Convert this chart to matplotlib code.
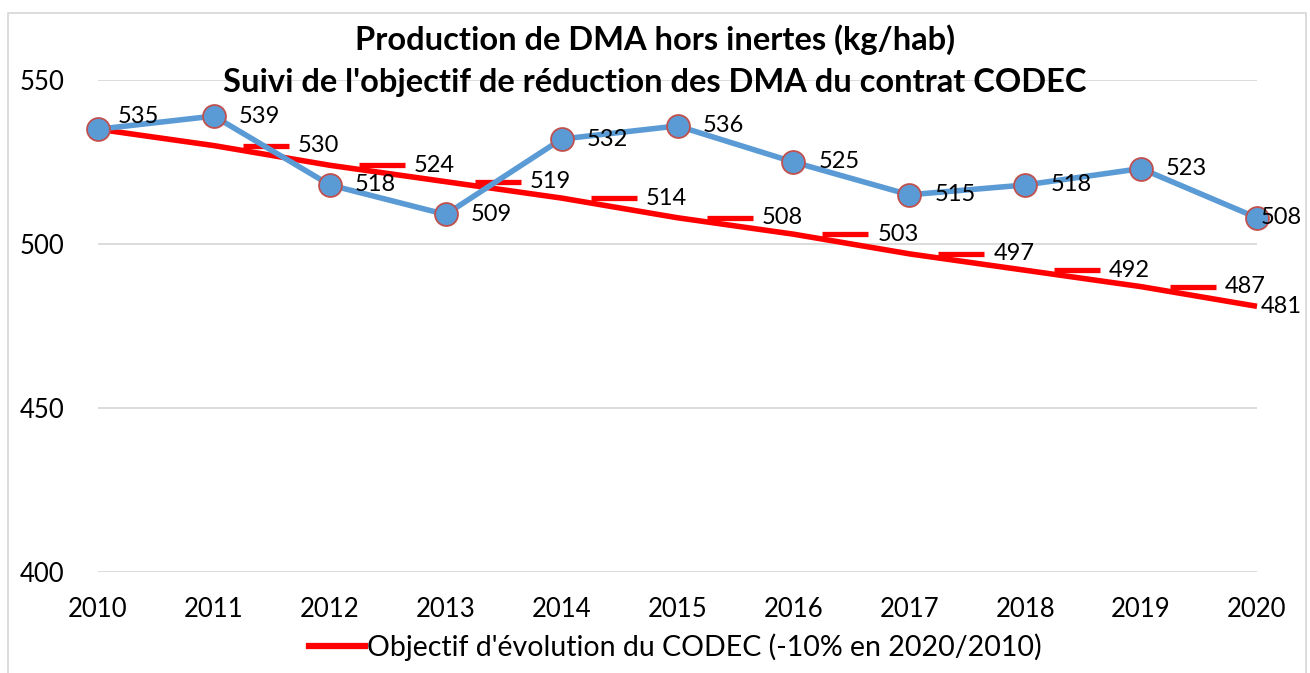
import matplotlib
matplotlib.use("Agg")
import matplotlib.pyplot as plt
from matplotlib.path import Path
from matplotlib.lines import Line2D

years = [2010, 2011, 2012, 2013, 2014, 2015, 2016, 2017, 2018, 2019, 2020]
dma = [535, 539, 518, 509, 532, 536, 525, 515, 518, 523, 508]
objectif = [535, 530, 524, 519, 514, 508, 503, 497, 492, 487, 481]
yticks = [400, 450, 500, 550]
title1 = "Production de DMA hors inertes (kg/hab)"
title2 = "Suivi de l'objectif de réduction des DMA du contrat CODEC"
legend_label = "Objectif d'évolution du CODEC (-10% en 2020/2010)"

plt.rcParams['font.family'] = ['Lato', 'DejaVu Sans']

W, H = 1310, 673
fig = plt.figure(figsize=(W / 100, H / 100), dpi=100)
ax = fig.add_axes([98 / W, (H - 572) / H, (1257 - 98) / W, (572 - 80) / H])

BLUE = '#5B9BD5'
RED = '#FF0000'

# gridlines
for t in yticks:
    ax.axhline(t, color='#D9D9D9', lw=1.3, zorder=0)

ax.plot(years, objectif, color=RED, lw=4, solid_capstyle='butt', zorder=2,
        clip_on=False)
ax.plot(years, dma, color=BLUE, lw=4, marker='o', ms=16.5,
        mfc=BLUE, mec='#C0504D', mew=1.3, zorder=3, clip_on=False)

ax.set_xlim(years[0], years[-1])
ax.set_ylim(yticks[0], yticks[-1])
ax.set_yticks(yticks)
ax.set_xticks(years)
ax.tick_params(length=0, labelsize=18.5)
ax.tick_params(axis='y', pad=24)
ax.tick_params(axis='x', pad=18)
for s in ax.spines.values():
    s.set_visible(False)

# legend-key dashes in the objective data labels
key = Path([(29, 0), (75, 0)], [Path.MOVETO, Path.LINETO])
ax.plot(years[1:-1], objectif[1:-1], ls='none', marker=key, ms=108,
        mfc='none', mec=RED, mew=3.8, zorder=2)

# data labels
lab_fs = 17
for i, (x, v) in enumerate(zip(years, dma)):
    if i == 0:
        off = (20, 13)
    elif i == len(years) - 1:
        off = (4, 0)
    else:
        off = (25, 0)
    ax.annotate(str(v), (x, v), xytext=off, textcoords='offset pixels',
                ha='left', va='center', fontsize=lab_fs, zorder=5,
                annotation_clip=False)
for i, (x, v) in enumerate(zip(years, objectif)):
    if i == 0:
        continue
    off = (4, 0) if i == len(years) - 1 else (84, 0)
    ax.annotate(str(v), (x, v), xytext=off, textcoords='offset pixels',
                ha='left', va='center', fontsize=lab_fs, zorder=5,
                annotation_clip=False)

fig.text(655 / W, 1 - 50 / H, title1, ha='center', va='baseline',
         fontsize=23.5, fontweight='bold')
fig.text(655 / W, 1 - 92 / H, title2, ha='center', va='baseline',
         fontsize=23.5, fontweight='bold')

handle = Line2D([], [], color=RED, lw=4.5)
fig.legend([handle], [legend_label], loc='center', bbox_to_anchor=(675 / W, 1 - 647 / H),
           frameon=False, fontsize=20.5, handlelength=2.0, handletextpad=0.05)

# outer border
fig.add_artist(Line2D([8 / W, 8 / W, 1306 / W, 1306 / W], [0, 1 - 13 / H, 1 - 13 / H, 0],
                      transform=fig.transFigure, color='#D9D9D9', lw=1.3))

fig.savefig('out.png', dpi=100)
